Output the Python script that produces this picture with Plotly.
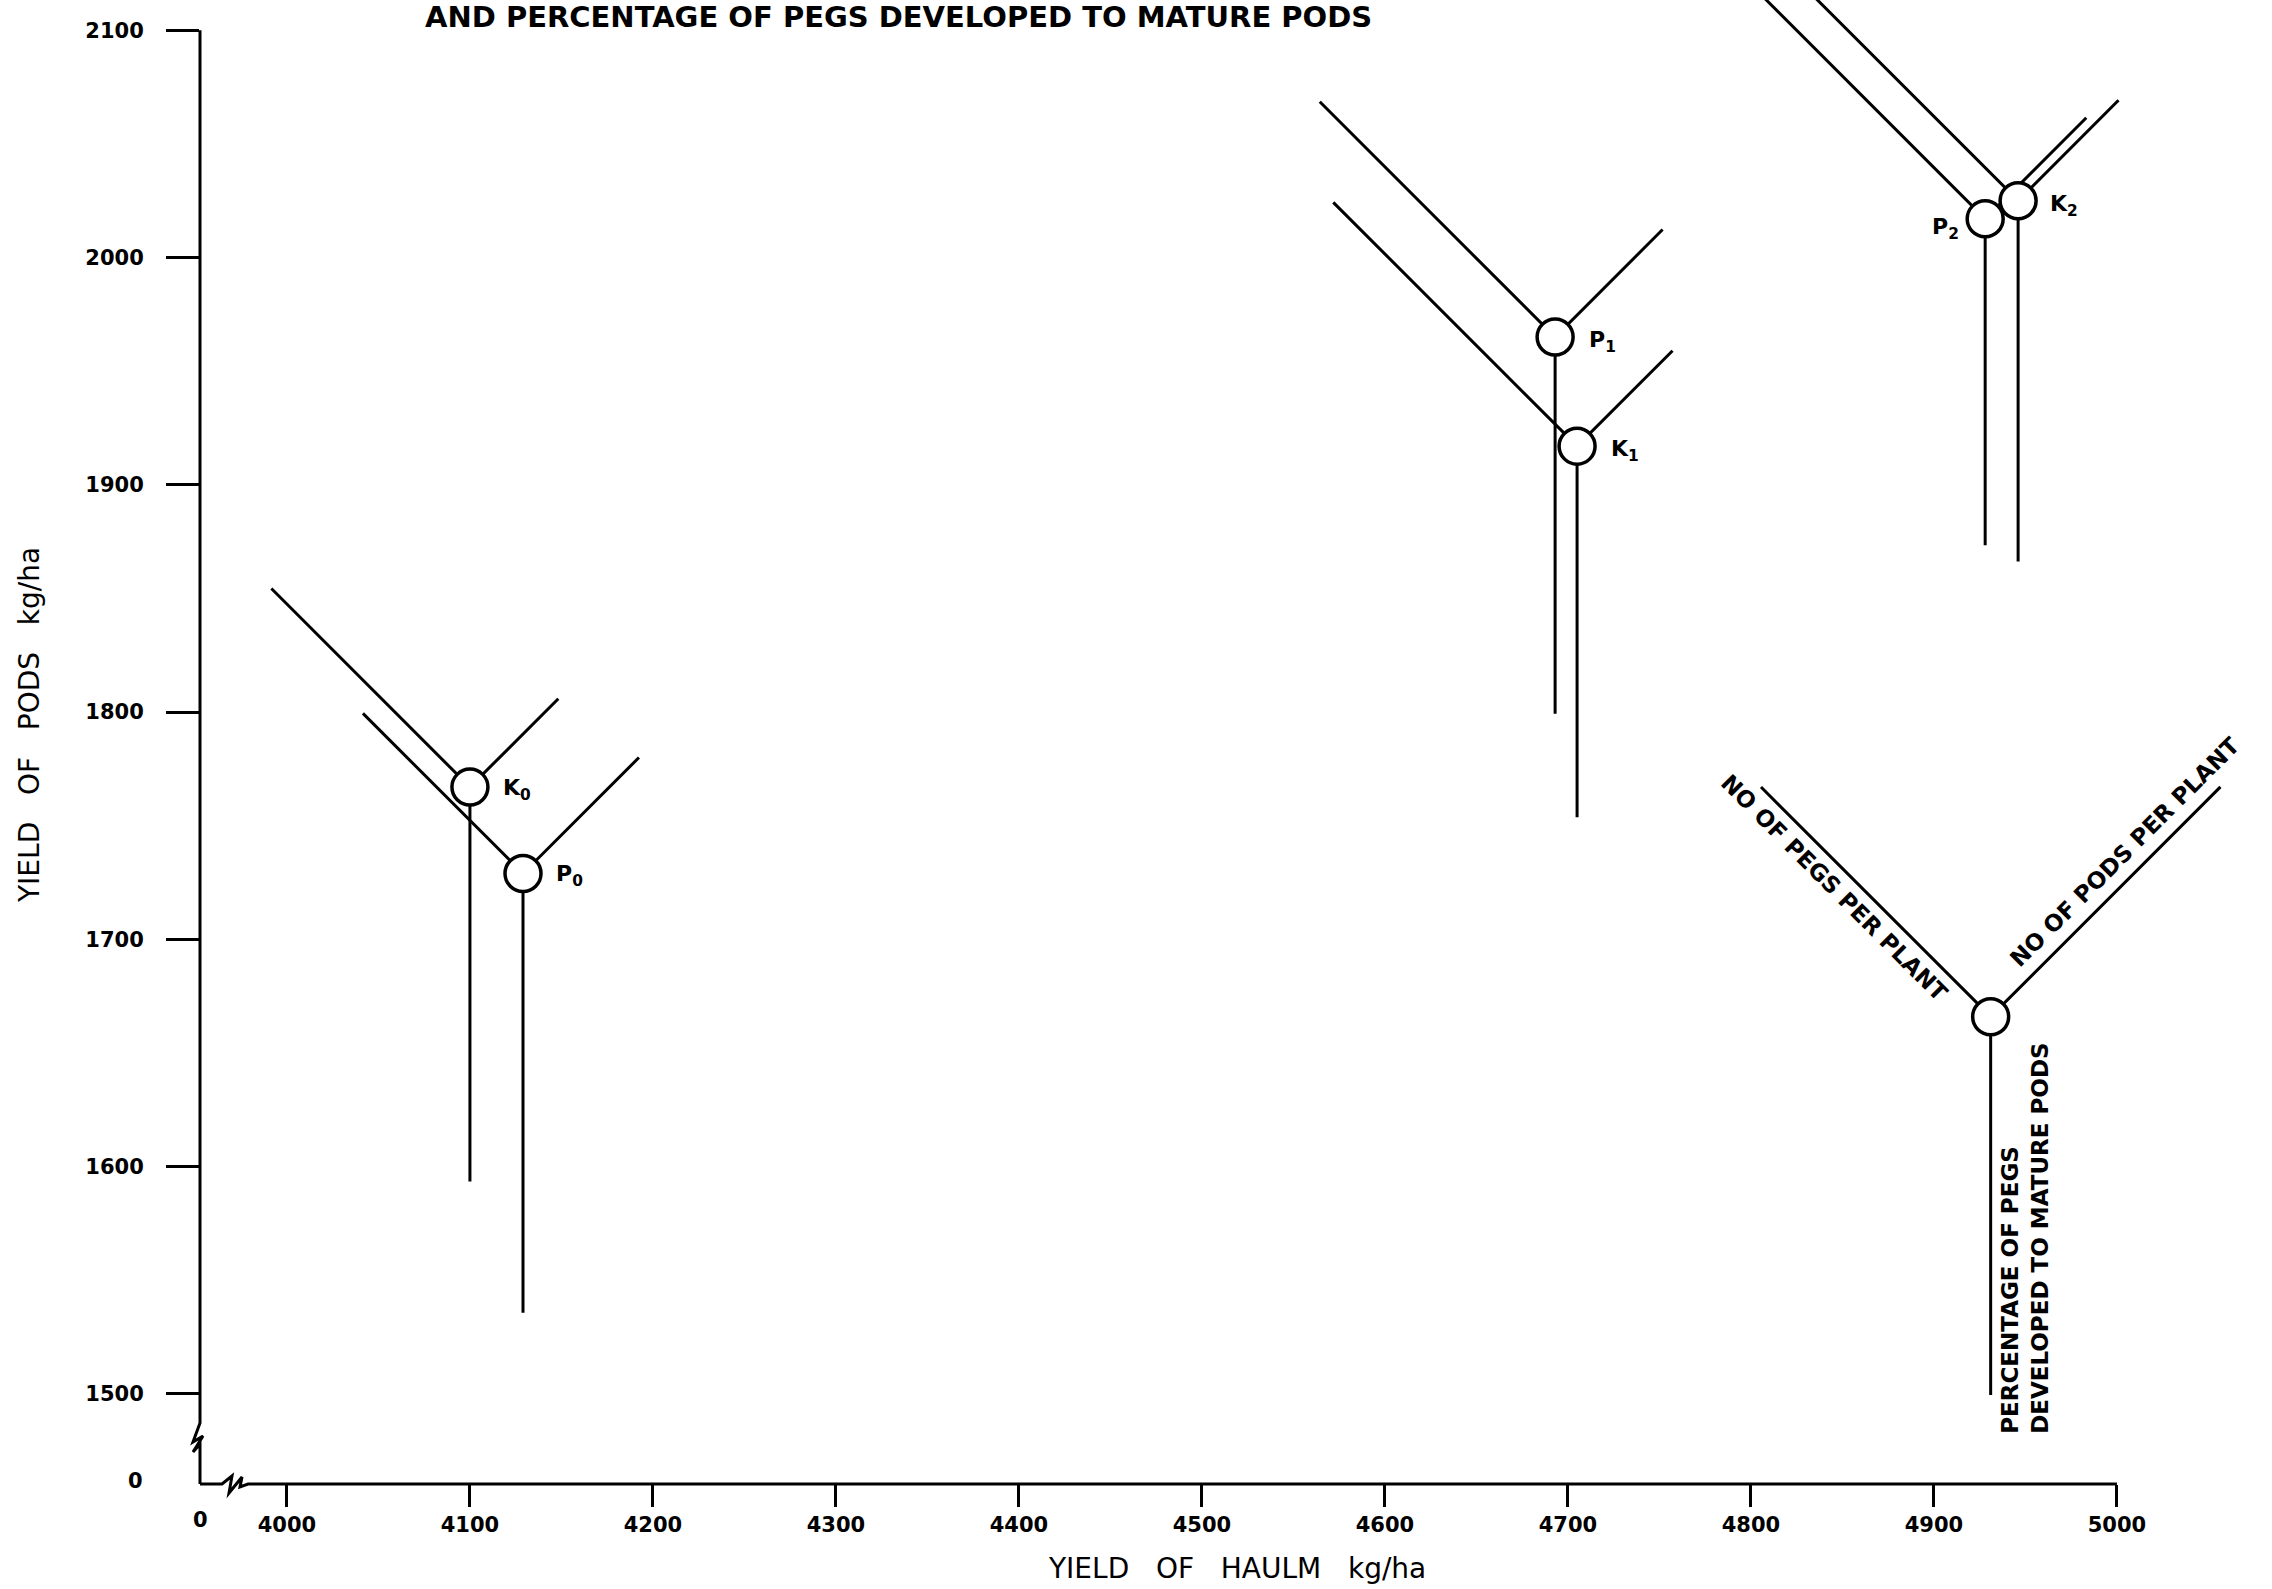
import math
import plotly.graph_objects as go

# ---------------- data ----------------
treatments = ["K0", "P0", "P1", "K1", "P2", "K2"]
treatment_labels = ["K<sub>0</sub>", "P<sub>0</sub>", "P<sub>1</sub>", "K<sub>1</sub>", "P<sub>2</sub>", "K<sub>2</sub>"]
haulm_yield = [4100, 4129, 4693, 4705, 4928, 4946]          # kg/ha (x)
pod_yield = [1767, 1729, 1965, 1917, 2017, 2025]            # kg/ha (y)
pegs_per_plant = [35.1, 28.3, 41.6, 43.1, 47.1, 45.3]        # upper-left ray
pods_per_plant = [12.5, 16.4, 15.2, 13.5, 14.3, 14.2]        # upper-right ray
pct_pegs_to_pods = [49.3, 54.9, 47.1, 46.4, 40.8, 45.1]      # downward ray

# key glyph
key_haulm, key_pod = 4931, 1666
key_pegs, key_pods, key_pct = 40.6, 32.5, 47.3

x_tick_vals = [4000, 4100, 4200, 4300, 4400, 4500, 4600, 4700, 4800, 4900, 5000]
y_tick_vals = [1500, 1600, 1700, 1800, 1900, 2000, 2100]

title_text = "AND PERCENTAGE OF PEGS DEVELOPED TO MATURE PODS"
x_title = "YIELD   OF   HAULM   kg/ha"
y_title = "YIELD   OF   PODS   kg/ha"

# ---------------- layout constants ----------------
W, H = 2272, 1589
ML, MR, MT, MB = 200, 0, 0, 105
PW, PH = W - ML - MR, H - MT - MB
PX_PER_X = 1.83      # px per kg/ha on haulm axis
PX_PER_Y = 2.273     # px per kg/ha on pod axis
X_ORIGIN = 3952.5    # broken axis: origin shown as 0
Y_ORIGIN = 1460.4
X_MAX = X_ORIGIN + PW / PX_PER_X
Y_MAX = Y_ORIGIN + PH / PX_PER_Y

PEG_PX, POD_PX, PCT_PX = 8.0, 10.0, 8.0   # ray length scales (px per unit)
FONT = "DejaVu Sans"
LW = 3
C45 = math.cos(math.pi / 4)


def px2paper_x(px):
    return (px - ML) / PW


def py2paper_y(py):
    return (MT + PH - py) / PH


def glyph_xy(x, y, pegs, pods, pct):
    lp, rp, dp = pegs * PEG_PX, pods * POD_PX, pct * PCT_PX
    xs = [x - lp * C45 / PX_PER_X, x, x + rp * C45 / PX_PER_X, None, x, x]
    ys = [y + lp * C45 / PX_PER_Y, y, y + rp * C45 / PX_PER_Y, None, y, y - dp / PX_PER_Y]
    return xs, ys


fig = go.Figure()

all_x, all_y = [], []
for i in range(len(treatments)):
    xs, ys = glyph_xy(haulm_yield[i], pod_yield[i], pegs_per_plant[i], pods_per_plant[i], pct_pegs_to_pods[i])
    all_x += xs + [None]
    all_y += ys + [None]
kx, ky = glyph_xy(key_haulm, key_pod, key_pegs, key_pods, key_pct)
all_x += kx
all_y += ky

fig.add_trace(go.Scatter(x=all_x, y=all_y, mode="lines", line=dict(color="black", width=LW),
                         hoverinfo="skip", showlegend=False))
fig.add_trace(go.Scatter(x=haulm_yield + [key_haulm], y=pod_yield + [key_pod], mode="markers",
                         marker=dict(size=36, color="white", line=dict(color="black", width=3.5)),
                         text=treatments + ["key"], hoverinfo="text", showlegend=False))

# ---------------- axes drawn as broken lines ----------------
y_top_px = MT + PH - (2100 - Y_ORIGIN) * PX_PER_Y
x_end_px = ML + (5000 - X_ORIGIN) * PX_PER_X
y_axis_px = [(ML, y_top_px), (ML, 1423), (193, 1442), (203, 1436), (193, 1452),
             (ML, 1444), (ML, MT + PH)]
x_axis_px = [(ML, MT + PH), (222, MT + PH), (232, 1476), (229, 1493), (242, 1477), (240, 1487), (248, MT + PH),
             (x_end_px, MT + PH)]
for pts in (y_axis_px, x_axis_px):
    path = "M " + " L ".join(f"{px2paper_x(a):.5f},{py2paper_y(b):.5f}" for a, b in pts)
    fig.add_shape(type="path", path=path, xref="paper", yref="paper", line=dict(color="black", width=LW))

# ---------------- labels ----------------
bold = lambda s: dict(family=FONT, size=s, color="black", weight="bold")
ann = []
offsets = {"K0": (31, -2, "left"), "P0": (31, -2, "left"), "P1": (32, -4, "left"), "K1": (32, -4, "left"),
           "P2": (-24, -10, "right"), "K2": (30, -5, "left")}
for i, t in enumerate(treatments):
    dx, dy, anc = offsets[t]
    ann.append(dict(x=haulm_yield[i], y=pod_yield[i], xref="x", yref="y", text=treatment_labels[i],
                    showarrow=False, xanchor=anc, yanchor="middle", xshift=dx, yshift=dy, font=bold(22)))

ann.append(dict(x=key_haulm, y=key_pod, xref="x", yref="y", text="NO OF PEGS PER PLANT", showarrow=False,
                textangle=45, xshift=-156, yshift=129, font=bold(23)))
ann.append(dict(x=key_haulm, y=key_pod, xref="x", yref="y", text="NO OF PODS PER PLANT", showarrow=False,
                textangle=-45, xshift=134, yshift=165, font=bold(23)))
ann.append(dict(x=key_haulm, y=key_pod, xref="x", yref="y", text="PERCENTAGE OF PEGS<br>DEVELOPED TO MATURE PODS",
                showarrow=False, textangle=-90, align="left", xanchor="center", yanchor="bottom",
                xshift=35, yshift=-419, font=bold(23)))

ann.append(dict(x=(898 - ML) / PW, y=1, xref="paper", yref="paper", text=title_text, showarrow=False,
                xanchor="center", yanchor="middle", yshift=-17, font=bold(29)))
ann.append(dict(x=(1237 - ML) / PW, y=0, xref="paper", yref="paper", text=x_title, showarrow=False,
                xanchor="center", yanchor="middle", yshift=-84,
                font=dict(family=FONT, size=28, color="black")))
ann.append(dict(x=0, y=1 - 725 / PH, xref="paper", yref="paper", text=y_title, showarrow=False,
                textangle=-90, xanchor="center", yanchor="middle", xshift=-171,
                font=dict(family=FONT, size=28, color="black")))
ann.append(dict(x=0, y=0, xref="paper", yref="paper", text="0", showarrow=False,
                xanchor="center", yanchor="middle", yshift=-36, font=bold(21)))
ann.append(dict(x=0, y=0, xref="paper", yref="paper", text="0", showarrow=False,
                xanchor="center", yanchor="middle", xshift=-65, yshift=3, font=bold(21)))

tick_font = bold(21)
fig.update_layout(
    width=W, height=H, autosize=False,
    margin=dict(l=ML, r=MR, t=MT, b=MB, pad=0),
    paper_bgcolor="white", plot_bgcolor="white",
    showlegend=False,
    annotations=ann,
    xaxis=dict(range=[X_ORIGIN, X_MAX], tickvals=x_tick_vals, ticktext=[str(v) for v in x_tick_vals],
               showgrid=False, zeroline=False, showline=False, ticks="outside", ticklen=22, tickwidth=3,
               tickcolor="black", tickfont=tick_font, ticklabelstandoff=0),
    yaxis=dict(range=[Y_ORIGIN, Y_MAX], tickvals=y_tick_vals, ticktext=[str(v) for v in y_tick_vals],
               showgrid=False, zeroline=False, showline=False, ticks="outside", ticklen=33, tickwidth=3,
               tickcolor="black", tickfont=tick_font, ticklabelstandoff=18),
)

fig.write_html("out.html", config={"displayModeBar": False},
               post_script="document.body.style.margin='0';")
